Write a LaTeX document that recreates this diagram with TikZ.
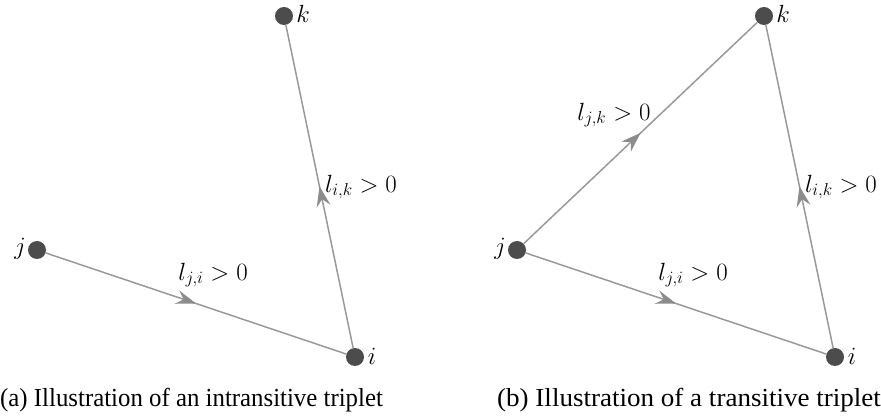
\documentclass[tikz,border=0pt]{standalone}
\usepackage{fontspec}
\setmainfont{Liberation Serif}
\usetikzlibrary{decorations.markings,arrows.meta}
\newcommand{\captext}[2]{\scalebox{#1}[1]{\fontsize{26}{30}\selectfont #2}}
\begin{document}
\begin{tikzpicture}[x=1pt,y=-1pt,
  vert/.style={circle,fill=black!70,inner sep=0pt,minimum size=18pt},
  lab/.style={font=\fontsize{23}{26}\selectfont,inner sep=0pt},
  captxt/.style={inner sep=0pt,anchor=base west},
  edge/.style={draw=black!40,line width=1.5pt,postaction=decorate,
    decoration={markings,mark=at position 0.5 with {\arrow[black!45]{Stealth[length=20pt,width=14pt,inset=7pt]}}}}]
\useasboundingbox (0,0) rectangle (881,419);
% (a)
\node[vert] (ja) at (37,250) {};
\node[vert] (ia) at (355,357) {};
\node[vert] (ka) at (284,16) {};
\node[lab] (lja) at (20,249) {$j$};
\node[lab] (lia) at (372,356) {$i$};
\node[lab] (lka) at (303,14) {$k$};
\draw[edge] (ja) -- (ia);
\draw[edge] (ia) -- (ka);
\node[lab] (eji) at (213,275) {$l_{j,i} > 0$};
\node[lab] (eik) at (361,187) {$l_{i,k} > 0$};
% (b)
\node[vert] (jb) at (517,250) {};
\node[vert] (ib) at (835,357) {};
\node[vert] (kb) at (764,16) {};
\node[lab] (ljb) at (500,249) {$j$};
\node[lab] (lib) at (852,356) {$i$};
\node[lab] (lkb) at (783,14) {$k$};
\draw[edge] (jb) -- (ib);
\draw[edge] (ib) -- (kb);
\draw[edge] (jb) -- (kb);
\node[lab] (ejib) at (693,275) {$l_{j,i} > 0$};
\node[lab] (eikb) at (841,187) {$l_{i,k} > 0$};
\node[lab] (ejkb) at (614,115) {$l_{j,k} > 0$};
% captions
\node[captxt] (capa) at (0,407) {\captext{0.955}{(a) Illustration of an intransitive triplet}};
\node[captxt] (capb) at (497,407) {\captext{1.04}{(b) Illustration of a transitive triplet}};
\end{tikzpicture}
\end{document}
